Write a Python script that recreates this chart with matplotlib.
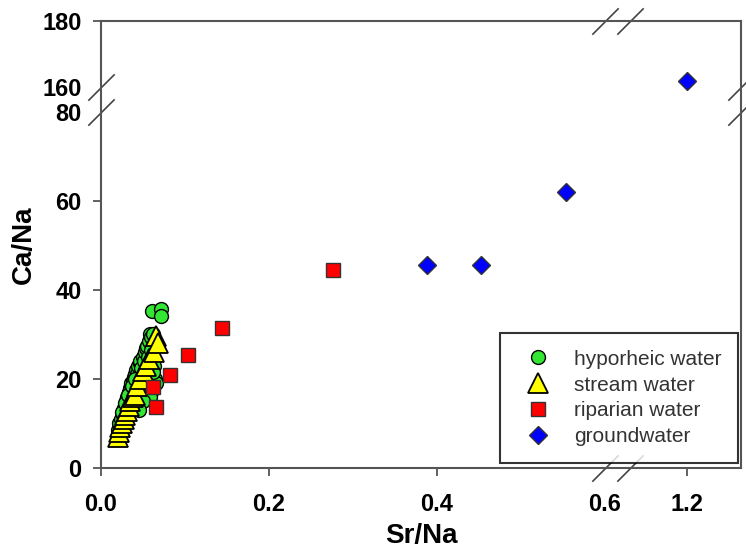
# Ca/Na vs Sr/Na scatter with broken x and y axes

import matplotlib
matplotlib.use("Agg")
import matplotlib.pyplot as plt
import numpy as np

plt.rcParams["font.family"] = ["Liberation Sans", "DejaVu Sans"]

# --- data ---
hypo_x = [0.020, 0.022, 0.024, 0.026, 0.027, 0.029, 0.030, 0.031, 0.033, 0.034,
          0.035, 0.036, 0.038, 0.039, 0.040, 0.042, 0.043, 0.044, 0.046, 0.047,
          0.048, 0.050, 0.051, 0.052, 0.053, 0.055, 0.056, 0.057, 0.058, 0.060,
          0.062, 0.063, 0.064, 0.060, 0.058, 0.050, 0.045, 0.061, 0.072, 0.071,
          0.065, 0.062, 0.025, 0.028, 0.032, 0.037, 0.041, 0.054, 0.059]
hypo_y = [8.5, 10.0, 11.0, 12.0, 13.5, 14.0, 15.0, 16.0, 17.0, 18.0,
          17.5, 19.0, 19.5, 20.5, 21.0, 22.0, 21.0, 23.0, 23.5, 24.0,
          22.5, 25.0, 24.0, 26.0, 27.0, 27.5, 25.0, 28.5, 30.0, 29.5,
          30.0, 23.0, 20.0, 17.0, 16.0, 15.0, 13.0, 35.2, 35.6, 34.2,
          19.0, 21.5, 12.5, 14.5, 16.5, 18.5, 20.0, 22.0, 26.5]

stream_x = [0.020, 0.021, 0.023, 0.025, 0.027, 0.029, 0.031, 0.033, 0.035,
            0.038, 0.040, 0.043, 0.046, 0.050, 0.053, 0.057, 0.063, 0.066, 0.068]
stream_y = [7.0, 8.0, 9.3, 10.0, 11.0, 12.0, 12.9, 14.0, 15.0,
            16.0, 16.4, 18.5, 20.0, 21.8, 23.0, 24.5, 26.1, 29.7, 28.0]

rip_x = [0.2766, 0.1437, 0.104, 0.0821, 0.0623, 0.0655]
rip_y = [44.5, 31.4, 25.3, 20.9, 18.2, 13.8]

ground_x = [0.388, 0.452, 0.554, 1.2]
ground_y = [45.6, 45.6, 62.0, 162.0]

x_ticks = [0.0, 0.2, 0.4, 0.6, 1.2]
x_labels = ["0.0", "0.2", "0.4", "0.6", "1.2"]
y_ticks = [0, 20, 40, 60, 80, 160, 180]
y_labels = ["0", "20", "40", "60", "80", "160", "180"]
x_breaks = [0.6, 0.78]
y_breaks = [80, 160]

# piecewise linear scales for the broken axes
xp = [-10.0, 0.6, 1.2, 10.0]
xf = [-8400.0, 504.0, 586.0, 586.0 + 8.8 * 840.0]
yp = [-1000.0, 80.0, 160.0, 1000.0]
yf = [-4444.0, 355.5, 380.0, 380.0 + 840.0 * 3.3]


def fx(v):
    return np.interp(v, xp, xf)


def ix(v):
    return np.interp(v, xf, xp)


def fy(v):
    return np.interp(v, yp, yf)


def iy(v):
    return np.interp(v, yf, yp)


fig = plt.figure(figsize=(7.46, 5.52), dpi=100)
ax = fig.add_axes([101 / 746, 1 - 468 / 552, 640 / 746, 447 / 552])
ax.set_xscale("function", functions=(fx, ix))
ax.set_yscale("function", functions=(fy, iy))

ax.plot(hypo_x, hypo_y, "o", ms=10, mfc="#33e633", mec="black", mew=1.0,
        ls="none", label="hyporheic water")
ax.plot(stream_x, stream_y, "^", ms=14, mfc="#ffff00", mec="black", mew=1.3,
        ls="none", label="stream water")
ax.plot(rip_x, rip_y, "s", ms=10.5, mfc="#ff0000", mec="#333333", mew=1.0,
        ls="none", label="riparian water")
ax.plot(ground_x, ground_y, "D", ms=9.5, mfc="#0000ff", mec="#333333", mew=1.0,
        ls="none", label="groundwater")

ax.set_xlim(0, 1.2 + 54 / 840)
ax.set_ylim(0, 180)
ax.set_xticks(x_ticks)
ax.set_xticklabels(x_labels)
ax.set_yticks(y_ticks)
ax.set_yticklabels(y_labels)
ax.minorticks_off()

for sp in ax.spines.values():
    sp.set_color("#555555")
    sp.set_linewidth(1.5)
ax.tick_params(direction="out", length=6, width=1.3, color="#555555",
               top=False, right=False, labelsize=17)
ax.tick_params(axis="x", pad=12)
ax.tick_params(axis="y", pad=8)
for lab in ax.get_xticklabels() + ax.get_yticklabels():
    lab.set_fontweight("bold")

# no tick marks where the breaks are
for t, v in zip(ax.xaxis.get_major_ticks(), x_ticks):
    if v in x_breaks:
        t.tick1line.set_visible(False)
for t, v in zip(ax.yaxis.get_major_ticks(), y_ticks):
    if v in y_breaks:
        t.tick1line.set_visible(False)

ax.set_xlabel("Sr/Na", fontsize=20, fontweight="bold", labelpad=5)
ax.set_ylabel("Ca/Na", fontsize=20, fontweight="bold", labelpad=4)

# break marks (double slashes) on all four spines
slash = [(-1, -1), (1, 1)]
for xb in x_breaks:
    for ya in [0, 1]:
        ax.plot([xb], [ya], marker=slash, ms=19, mew=1.2, mec="#444444",
                transform=ax.get_xaxis_transform(), clip_on=False, ls="none")
for yb in y_breaks:
    for xa in [0, 1]:
        ax.plot([xa], [yb], marker=slash, ms=19, mew=1.2, mec="#444444",
                transform=ax.get_yaxis_transform(), clip_on=False, ls="none")

leg = ax.legend(loc="lower right", bbox_to_anchor=(738 / 746, 1 - 463 / 552),
                bbox_transform=fig.transFigure, fontsize=15, frameon=True,
                fancybox=False, edgecolor="black", borderpad=0.8,
                labelspacing=0.33, handletextpad=0.72, handlelength=2.0,
                borderaxespad=0)
leg.get_frame().set_linewidth(1.5)
leg.set_zorder(10)
for txt in leg.get_texts():
    txt.set_color("#333333")

fig.savefig("out.png", dpi=100)
